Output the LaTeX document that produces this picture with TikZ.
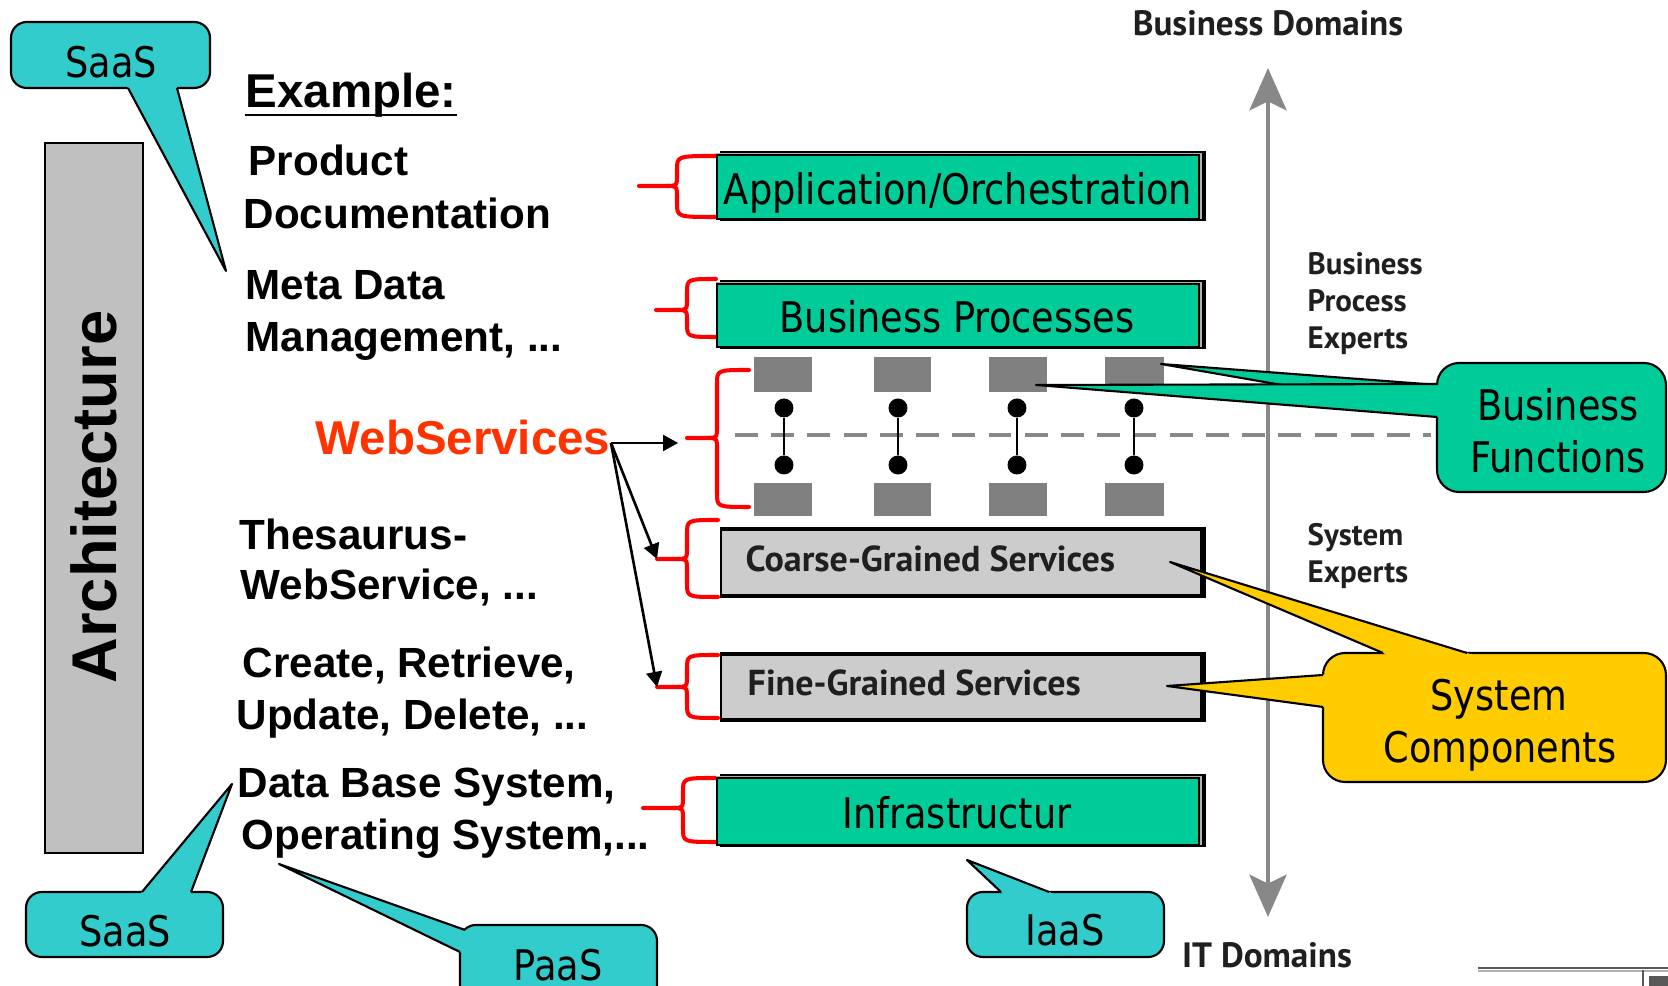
\documentclass[tikz,border=0pt]{standalone}
\usepackage{fontspec}
\setmainfont{Liberation Sans}
\newfontfamily\calloutfont[FakeStretch=0.87]{DejaVu Sans}
\newfontfamily\axisfont{PT Sans}
\usetikzlibrary{arrows.meta,calc}

\definecolor{layergreen}{HTML}{00CC99}
\definecolor{calloutcyan}{HTML}{33CCCC}
\definecolor{calloutyellow}{HTML}{FFCC00}
\definecolor{servicegray}{HTML}{CCCCCC}
\definecolor{archgray}{HTML}{C0C0C0}
\definecolor{blockgray}{HTML}{808080}
\definecolor{axisgray}{HTML}{888888}
\definecolor{wsred}{HTML}{FF3300}
\definecolor{bracered}{HTML}{FF0000}
\definecolor{panelgap}{HTML}{B0B0B0}

% green layer panel with its dark offset frame: x0, y0, x1, y1
\newcommand\layerpanel[4]{%
  \fill[black] (#1+3,#2-4) rectangle (#3+7,#4+2);
  \fill[panelgap] (#1-1,#2-1.5) rectangle (#3+2.5,#4);
  \filldraw[layerbox] (#1,#2) rectangle (#3,#4);
}
% grey service panel with heavy frame: x0, y0, x1, y1
\newcommand\servicepanel[4]{%
  \fill[black] (#1,#2) rectangle (#3,#4);
  \fill[servicegray] (#1+2,#2+4) rectangle (#3-6,#4-4);
}
% red curly brace: name, end x, top y, bottom y, spine x, tip y, tip x
\newcommand\curlybrace[7]{%
  \draw[bracestroke] (#2,#3) .. controls (#5,#3) .. (#5,#3+14) -- (#5,#6-12)
     .. controls (#5,#6) .. (#5-10,#6) -- (#7,#6);
  \draw[bracestroke] (#5-10,#6) .. controls (#5,#6) .. (#5,#6+12) -- (#5,#4-14)
     .. controls (#5,#4) .. (#2,#4);
  \coordinate (#1) at (#7,#6);
}
% callout pointer: fill colour, tip, base point 1, base point 2
\newcommand\calloutpointer[4]{%
  \fill[#1] (#2) -- ($(#3)!-2pt!(#2)$) -- ($(#4)!-2pt!(#2)$) -- cycle;
  \draw[calloutedge] (#3) -- (#2) -- (#4);
}

\begin{document}
\begin{tikzpicture}[x=0.01cm, y=-0.01cm,
  leftlabel/.style={anchor=base west, inner sep=0pt, font=\bfseries\fontsize{12}{14}\selectfont},
  calloutlabel/.style={anchor=base, inner sep=0pt, font=\calloutfont\fontsize{12}{14}\selectfont},
  expertlabel/.style={anchor=base west, inner sep=0pt, text=black!88, font=\axisfont\bfseries\fontsize{8.8}{10}\selectfont},
  domainlabel/.style={inner sep=0pt, text=black!88, font=\axisfont\bfseries\fontsize{10}{12}\selectfont},
  servicelabel/.style={anchor=base west, inner sep=0pt, text=black!88, font=\axisfont\bfseries\fontsize{10.25}{12}\selectfont},
  layerbox/.style={fill=layergreen, draw=black, line width=0.5pt},
  bracestroke/.style={draw=bracered, line width=1.15pt, line cap=round, line join=round},
  calloutedge/.style={draw=black, line width=0.6pt, line join=round},
  calloutbody/.style={calloutedge, rounded corners=#1},
  wsarrow/.style={draw=black, line width=0.75pt, -{Triangle[length=4.3pt, width=4.5pt]}},
  busdot/.style={circle, fill=black, inner sep=0pt, minimum size=5.4pt},
  axisarrow/.style={draw=axisgray, line width=1.4pt,
    {Stealth[length=12pt, width=10.5pt, inset=2.5pt]}-{Stealth[length=12pt, width=10.5pt, inset=2.5pt]}}
]
\clip (0,0) rectangle (1668,986);
\fill[white] (0,0) rectangle (1668,986);

% ---- architecture bar ----
\filldraw[fill=archgray, draw=black, line width=0.5pt] (45,143) rectangle (143,853);
\node[rotate=90, inner sep=0pt, font=\bfseries\fontsize{18}{20}\selectfont] (arch) at (94,497) {Architecture};

% ---- example texts ----
\node[leftlabel, font=\bfseries\fontsize{13.5}{16}\selectfont] (ex) at (245,108) {Example:};
\draw[line width=0.75pt] ([yshift=-2pt]ex.base west) -- ([yshift=-2pt]ex.base east);
\node[leftlabel] (prod1) at (248,176) {Product};
\node[leftlabel] (prod2) at (243,229) {Documentation};
\node[leftlabel] (meta1) at (245,300) {Meta Data};
\node[leftlabel] (meta2) at (245,352) {Management, ...};
\node[leftlabel, text=wsred, font=\bfseries\fontsize{13.5}{16}\selectfont] (ws) at (315,455) {WebServices};
\node[leftlabel] (thes1) at (239,550) {Thesaurus-};
\node[leftlabel] (thes2) at (240,600) {WebService, ...};
\node[leftlabel] (crud1) at (242,678) {Create, Retrieve,};
\node[leftlabel] (crud2) at (236,730) {Update, Delete, ...};
\node[leftlabel] (sys1) at (237,798) {Data Base System,};
\node[leftlabel] (sys2) at (241,850) {Operating System,...};

% ---- red braces ----
\curlybrace{appTip}{716}{156}{217}{677}{186}{639}
\curlybrace{bpTip}{716}{279}{337}{687}{310}{656}
\curlybrace{wsTip}{749}{370}{507}{717}{438}{687}
\curlybrace{cgTip}{718}{520}{597}{687}{559}{657}
\curlybrace{fgTip}{718}{655}{718}{687}{687}{657}
\curlybrace{infTip}{716}{778}{842}{683}{808}{643}

% ---- domain axis and layer divider ----
\draw[axisgray, line width=1.1pt, dash pattern=on 6.5pt off 3.8pt] (735,435) -- (1431,435);
\coordinate (axtop) at (1268,68);
\coordinate (axbot) at (1268,917);
\draw[axisarrow] (axtop) -- (axbot);

% ---- layers ----
\layerpanel{717}{155}{1199}{219}
\node[calloutlabel] (appText) at (958,205) {Application/Orchestration};
\layerpanel{717}{284}{1199}{347}
\node[calloutlabel] (bpText) at (957,333) {Business Processes};
\layerpanel{717}{778}{1199}{845}
\node[calloutlabel] (infText) at (957,829) {Infrastructur};

\foreach \xa/\xb in {754/812, 874/931, 989/1047, 1105/1164} {
  \fill[blockgray] (\xa,357) rectangle (\xb,392);
  \fill[blockgray] (\xa,483) rectangle (\xb,516);
}
\foreach \x [count=\i] in {784,898,1017,1134} {
  \node[busdot] (bt\i) at (\x,408) {};
  \node[busdot] (bb\i) at (\x,465) {};
  \draw[line width=0.45pt] (bt\i) -- (bb\i);
}

\servicepanel{720}{527}{1206}{598}
\node[servicelabel] (cgText) at (745,572) {Coarse-Grained Services};
\servicepanel{720}{652}{1206}{722}
\node[servicelabel] (fgText) at (747,696) {Fine-Grained Services};

% ---- arrows from WebServices ----
\coordinate (wsout) at (611,443);
\draw[wsarrow, shorten >=2.5pt] (wsout) -- (wsout -| wsTip);
\draw[wsarrow] (wsout) -- (cgTip);
\draw[wsarrow] (wsout) -- (fgTip);

% ---- axis labels ----
\node[domainlabel, anchor=base] (bizdom) at (1268,36) {Business Domains};
\node[domainlabel, anchor=base] (itdom) at (1267,968) {IT Domains};
\node[expertlabel] (bpe1) at (1307,275) {Business};
\node[expertlabel] (bpe2) at (1307,312) {Process};
\node[expertlabel] (bpe3) at (1307,349) {Experts};
\node[expertlabel] (se1) at (1307,546) {System};
\node[expertlabel] (se2) at (1307,583) {Experts};

% ---- callouts ----
\coordinate (saasAtip) at (226,271);
\coordinate (saasAb1) at (128,88);
\coordinate (saasAb2) at (177,88);
\filldraw[calloutbody=4.5pt, fill=calloutcyan] (11,22) rectangle (210,88);
\calloutpointer{calloutcyan}{saasAtip}{saasAb1}{saasAb2}
\node[calloutlabel] (saasA) at (111,78) {SaaS};

\coordinate (saasBtip) at (232,784);
\coordinate (saasBb1) at (142,892);
\coordinate (saasBb2) at (191,892);
\filldraw[calloutbody=4.5pt, fill=calloutcyan] (26,892) rectangle (223,957);
\calloutpointer{calloutcyan}{saasBtip}{saasBb1}{saasBb2}
\node[calloutlabel] (saasB) at (125,947) {SaaS};

\coordinate (paasTip) at (279,864);
\coordinate (paasB1) at (465,930);
\coordinate (paasB2) at (460,952);
\filldraw[calloutbody=4.5pt, fill=calloutcyan] (460,925) rectangle (657,1010);
\calloutpointer{calloutcyan}{paasTip}{paasB1}{paasB2}
\node[calloutlabel] (paas) at (558,981) {PaaS};

\coordinate (iaasTip) at (967,860);
\coordinate (iaasB1) at (1001,892);
\coordinate (iaasB2) at (1049,892);
\filldraw[calloutbody=4.5pt, fill=calloutcyan] (967,892) rectangle (1164,957);
\calloutpointer{calloutcyan}{iaasTip}{iaasB1}{iaasB2}
\node[calloutlabel] (iaas) at (1065,946) {IaaS};

\coordinate (bfTipA) at (1161,364);
\coordinate (bfA1) at (1438,385);
\coordinate (bfA2) at (1437,412);
\coordinate (bfTipB) at (1036,385);
\coordinate (bfB1) at (1438,384);
\coordinate (bfB2) at (1437,417);
\filldraw[calloutbody=6.3pt, fill=layergreen] (1437,363) rectangle (1666,492);
\calloutpointer{layergreen}{bfTipA}{bfA1}{bfA2}
\calloutpointer{layergreen}{bfTipB}{bfB1}{bfB2}
\node[calloutlabel] (bf1) at (1558,421) {Business};
\node[calloutlabel] (bf2) at (1558,473) {Functions};

\coordinate (scTipA) at (1170,562);
\coordinate (scA1) at (1383,653);
\coordinate (scA2) at (1467,653);
\coordinate (scTipB) at (1167,686);
\coordinate (scB1) at (1323,675);
\coordinate (scB2) at (1323,707);
\filldraw[calloutbody=6.3pt, fill=calloutyellow] (1323,653) rectangle (1666,782);
\calloutpointer{calloutyellow}{scTipA}{scA1}{scA2}
\calloutpointer{calloutyellow}{scTipB}{scB1}{scB2}
\node[calloutlabel] (sc1) at (1499,711) {System};
\node[calloutlabel] (sc2) at (1500,763) {Components};

% ---- page footer edge ----
\draw[black!65, line width=0.7pt] (1478,968) -- (1668,968);
\draw[black!30, line width=0.5pt] (1478,971) -- (1668,971);
\draw[black!65, line width=0.6pt] (1643,970) -- (1643,986);
\fill[black!65] (1649,976) rectangle (1668,986);
\end{tikzpicture}
\end{document}
